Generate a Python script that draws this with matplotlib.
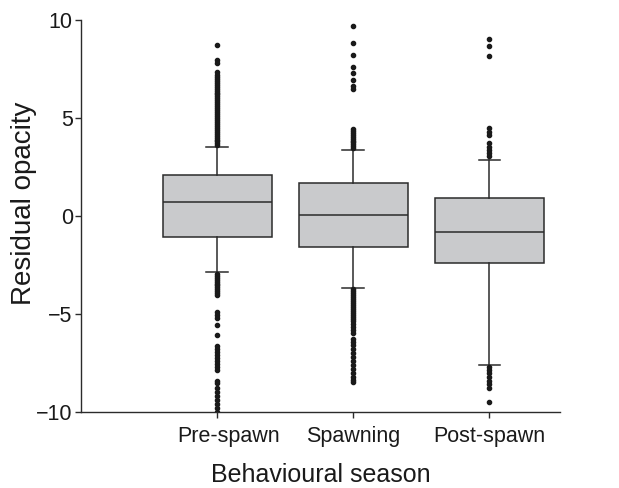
import matplotlib
matplotlib.use("Agg")
import matplotlib.pyplot as plt
import matplotlib.transforms as mtransforms

plt.rcParams['font.family'] = ['Liberation Sans', 'DejaVu Sans']

categories = ["Pre-spawn", "Spawning", "Post-spawn"]
q1 = [-1.08, -1.6, -2.4]
median = [0.72, 0.05, -0.82]
q3 = [2.08, 1.7, 0.92]
whislo = [-2.88, -3.67, -7.6]
whishi = [3.5, 3.38, 2.85]

fliers_pre = [3.6, 3.7, 3.8, 3.9, 4.0, 4.1, 4.2, 4.3, 4.4, 4.5, 4.6, 4.7, 4.8, 4.9, 5.0,
              5.1, 5.2, 5.3, 5.4, 5.5, 5.6, 5.7, 5.8, 5.9, 6.0, 6.1, 6.2, 6.3, 6.4, 6.5,
              6.6, 6.7, 6.8, 6.9, 7.0, 7.1, 7.2, 7.35, 7.8, 7.95, 8.7,
              -2.95, -3.05, -3.15, -3.25, -3.35, -3.45, -3.55, -3.65, -3.75, -3.85, -3.95, -4.05,
              -4.9, -5.05, -5.2, -5.55, -6.1,
              -6.65, -6.8, -6.95, -7.1, -7.25, -7.4, -7.55, -7.7, -7.85,
              -8.4, -8.55, -8.8, -9.0, -9.2, -9.4, -9.6, -9.8, -10.0]
fliers_spawn = [3.45, 3.55, 3.65, 3.75, 3.85, 3.95, 4.05, 4.15, 4.25, 4.35, 4.45,
                6.5, 6.65, 6.95, 7.3, 7.6, 8.2, 8.85, 9.7,
                -3.75, -3.85, -3.95, -4.05, -4.15, -4.25, -4.35, -4.45, -4.55, -4.65, -4.75,
                -4.85, -4.95, -5.05, -5.15, -5.25, -5.35, -5.5, -5.65, -5.8, -5.95,
                -6.3, -6.45, -6.6, -6.8, -7.0, -7.2, -7.4, -7.6, -7.8, -8.0, -8.2, -8.35, -8.5]
fliers_post = [3.05, 3.2, 3.35, 3.5, 3.7, 4.15, 4.3, 4.5, 8.15, 8.65, 9.05,
               -7.7, -7.85, -8.0, -8.2, -8.4, -8.6, -8.8, -9.5]
fliers = [fliers_pre, fliers_spawn, fliers_post]

stats = []
for i, name in enumerate(categories):
    stats.append(dict(label=name, q1=q1[i], med=median[i], q3=q3[i],
                      whislo=whislo[i], whishi=whishi[i], fliers=fliers[i]))

fig = plt.figure(figsize=(6.19, 4.88), dpi=100)
ax = fig.add_axes([0.131, 0.156, 0.774, 0.803])

line_col = "#2b2b2b"
ax.bxp(stats, positions=[1, 2, 3], widths=0.8, patch_artist=True,
       boxprops=dict(facecolor="#c9cacc", edgecolor=line_col, linewidth=1.1),
       medianprops=dict(color=line_col, linewidth=1.1),
       whiskerprops=dict(color=line_col, linewidth=1.1),
       capprops=dict(color=line_col, linewidth=1.1),
       capwidths=0.16,
       flierprops=dict(marker='o', markersize=3.0, markerfacecolor='#1a1a1a',
                       markeredgecolor='#1a1a1a', linestyle='none'))

ax.set_xlim(0, 3.52)
ax.set_ylim(-10, 10)
ax.set_yticks([-10, -5, 0, 5, 10])
ax.set_yticklabels(["\u221210", "\u22125", "0", "5", "10"])
ax.set_xticks([1, 2, 3])
ax.set_xticklabels(categories)
ax.spines['top'].set_visible(False)
ax.spines['right'].set_visible(False)
for s in ['left', 'bottom']:
    ax.spines[s].set_color(line_col)
    ax.spines[s].set_linewidth(1.0)
ax.tick_params(axis='both', direction='out', length=4, width=1.0, color=line_col,
               labelsize=15.5, labelcolor='#1a1a1a')
ax.tick_params(axis='y', pad=2)
ax.tick_params(axis='x', pad=6)
# first category label sits slightly right of its tick in the reference
lab0 = ax.get_xticklabels()[0]
lab0.set_transform(lab0.get_transform() + mtransforms.ScaledTranslation(0.11, 0, fig.dpi_scale_trans))
ax.set_xlabel("Behavioural season", fontsize=18, color='#1a1a1a', labelpad=12)
ax.set_ylabel("Residual opacity", fontsize=20, color='#1a1a1a')
ax.yaxis.set_label_coords(-0.092, 0.532)

fig.savefig("out.png", dpi=100)
